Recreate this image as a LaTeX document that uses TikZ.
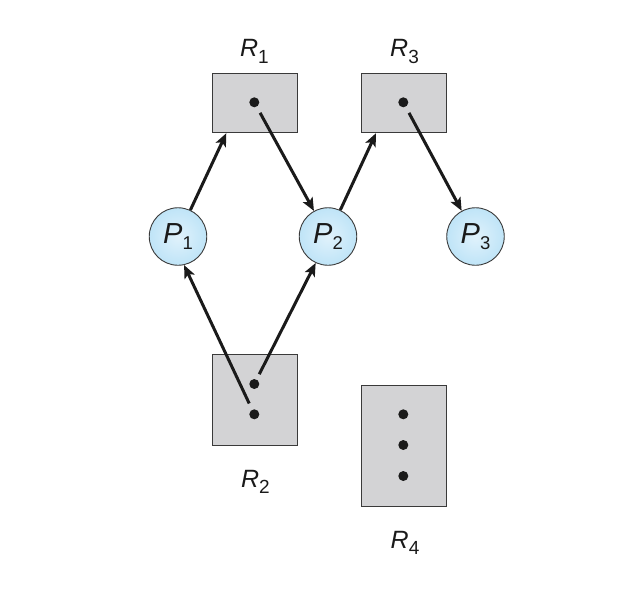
\documentclass[tikz,border=0pt]{standalone}
\usepackage{fontspec}
\setmainfont{Liberation Sans}
\usetikzlibrary{arrows.meta}
\definecolor{boxgray}{HTML}{D3D3D5}
\definecolor{edgegray}{HTML}{3A3A3A}
\definecolor{inkcol}{HTML}{1A1A1A}
\definecolor{pblue}{HTML}{BFE4F7}
\definecolor{pbluein}{HTML}{E0F2FC}
\newcommand{\rname}[1]{{\fontsize{25}{27}\selectfont\itshape R\raisebox{-6.5pt}{\upshape\fontsize{19}{20}\selectfont #1}}}
\newcommand{\pname}[1]{{\fontsize{29}{31}\selectfont\itshape P\raisebox{-6.7pt}{\upshape\fontsize{18.5}{20}\selectfont #1}}}
\begin{document}
\begin{tikzpicture}[x=1pt,y=-1pt,
  res/.style={draw=edgegray, line width=1pt, fill=boxgray, inner sep=0pt, minimum width=85pt},
  proc/.style={circle, draw=edgegray, line width=0.9pt, inner color=pbluein, outer color=pblue, minimum size=57.5pt, inner sep=0pt, text=inkcol},
  inst/.style={circle, fill=inkcol, minimum size=10pt, inner sep=0pt, outer sep=0pt},
  edge/.style={draw=inkcol, line width=3pt, -{Stealth[length=13pt,width=11pt,inset=3pt]}},
  lbl/.style={anchor=base, inner sep=0pt, text=inkcol}]
\useasboundingbox (0,0) rectangle (623,598);
% resources
\node[res, minimum height=59.4pt] (R1) at (254.8,103) {};
\node[res, minimum height=59.4pt] (R3) at (404,103) {};
\node[res, minimum height=90.7pt] (R2) at (254.7,399.7) {};
\node[res, minimum height=121.3pt] (R4) at (404,446.3) {};
% instances
\node[inst] (d1) at (254.3,102.3) {};
\node[inst] (d3) at (403.3,102.3) {};
\node[inst] (d2a) at (254.3,384) {};
\node[inst] (d2b) at (254.3,414.3) {};
\node[inst] (d4a) at (403.3,414.3) {};
\node[inst] (d4b) at (403.3,445) {};
\node[inst] (d4c) at (403.3,476) {};
% labels
\node[lbl] (L1) at (254.5,56.7) {\rname{1}};
\node[lbl] (L3) at (404.5,56.7) {\rname{3}};
\node[lbl] (L2) at (255.5,487) {\rname{2}};
\node[lbl] (L4) at (405,548) {\rname{4}};
% processes
\node[proc] (P1) at (178,236.5) {\pname{1}};
\node[proc] (P2) at (328,236.5) {\pname{2}};
\node[proc] (P3) at (475.5,236.5) {\pname{3}};
% edges
\draw[edge] (P1) -- ([xshift=14.5pt]R1.south west);
\draw[edge, shorten <=7pt] (d1) -- (P2);
\draw[edge] (P2) -- ([xshift=15pt]R3.south west);
\draw[edge, shorten <=7pt] (d3) -- (P3);
\draw[edge, shorten <=7pt] (d2b) -- (P1.-78);
\draw[edge, shorten <=6pt] (d2a) -- (P2.-115);
\end{tikzpicture}
\end{document}
